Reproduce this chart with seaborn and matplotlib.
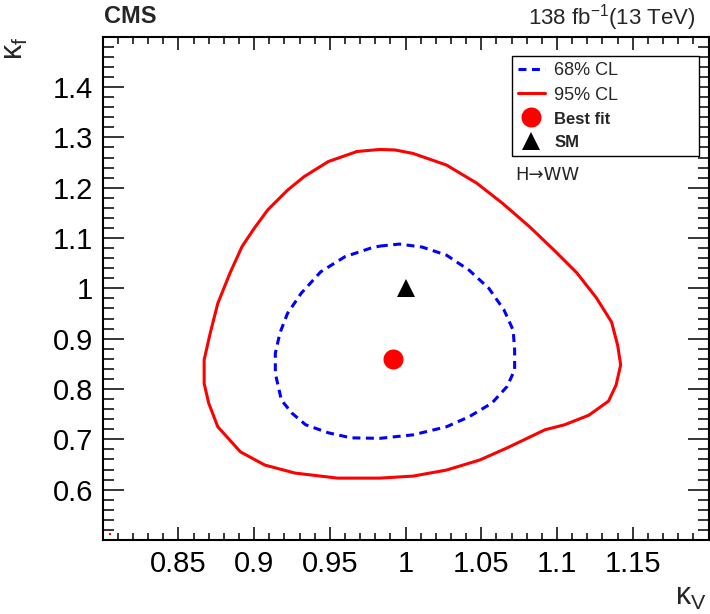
import numpy as np
import pandas as pd
import seaborn as sns
import matplotlib.pyplot as plt
from matplotlib.lines import Line2D
from matplotlib.ticker import MultipleLocator, FuncFormatter

# 95% CL contour (kappa_V, kappa_f)
kv_95 = [0.968, 0.983, 0.993, 1.005, 1.027, 1.047, 1.064, 1.082, 1.098, 1.113,
         1.126, 1.136, 1.140, 1.142, 1.139, 1.134, 1.121, 1.105, 1.092, 1.067,
         1.049, 1.027, 1.005, 0.983, 0.955, 0.927, 0.907, 0.891, 0.876, 0.870,
         0.867, 0.867, 0.871, 0.876, 0.884, 0.892, 0.900, 0.909, 0.922, 0.933,
         0.949, 0.968]
kf_95 = [1.272, 1.276, 1.275, 1.268, 1.245, 1.209, 1.169, 1.122, 1.076, 1.031,
         0.981, 0.933, 0.887, 0.848, 0.808, 0.776, 0.748, 0.729, 0.719, 0.683,
         0.659, 0.639, 0.627, 0.623, 0.623, 0.633, 0.649, 0.675, 0.725, 0.772,
         0.811, 0.858, 0.911, 0.970, 1.030, 1.083, 1.119, 1.156, 1.195, 1.222,
         1.252, 1.272]

# 68% CL contour
kv_68 = [0.983, 0.996, 1.011, 1.027, 1.042, 1.055, 1.065, 1.071, 1.072, 1.072,
         1.067, 1.057, 1.042, 1.027, 1.005, 0.983, 0.964, 0.949, 0.934, 0.925,
         0.918, 0.914, 0.914, 0.917, 0.922, 0.931, 0.944, 0.960, 0.977, 0.983]
kf_68 = [1.084, 1.088, 1.082, 1.066, 1.036, 1.000, 0.957, 0.917, 0.878, 0.838,
         0.805, 0.772, 0.745, 0.725, 0.709, 0.702, 0.703, 0.713, 0.729, 0.752,
         0.778, 0.831, 0.871, 0.911, 0.950, 0.990, 1.033, 1.063, 1.080, 1.084]

best_fit = (0.992, 0.860)
sm_point = (1.0, 1.0)
stray_kv = [0.805]
stray_kf = [0.512]

x_ticks = [0.85, 0.9, 0.95, 1.0, 1.05, 1.1, 1.15]
y_ticks = [0.6, 0.7, 0.8, 0.9, 1.0, 1.1, 1.2, 1.3, 1.4]

sns.set_style("ticks")
plt.rcParams['font.family'] = ['Liberation Sans', 'DejaVu Sans']
plt.rcParams['mathtext.fontset'] = 'custom'
plt.rcParams['mathtext.rm'] = 'Liberation Sans'
plt.rcParams['mathtext.it'] = 'Liberation Sans'
plt.rcParams['mathtext.bf'] = 'Liberation Sans:bold'

fig = plt.figure(figsize=(7.1, 6.14), dpi=100)
ax = fig.add_axes([0.1446, 0.1205, 0.8533, 0.8197])

df95 = pd.DataFrame({"kv": kv_95, "kf": kf_95})
df68 = pd.DataFrame({"kv": kv_68, "kf": kf_68})

sns.lineplot(x="kv", y="kf", data=df95, sort=False, estimator=None,
             color="#ff0000", lw=2.2, ax=ax, legend=False)
sns.lineplot(x="kv", y="kf", data=df68, sort=False, estimator=None,
             color="#0000ff", lw=2.2, ax=ax, legend=False,
             linestyle=(0, (2.6, 1.8)))
ax.plot([best_fit[0]], [best_fit[1]], 'o', color="#ff0000", ms=14.4, mew=0)
ax.plot([sm_point[0]], [sm_point[1]], '^', color="black", ms=13, mew=0)
ax.plot(stray_kv, stray_kf, 's', color="#ff0000", ms=2, mew=0)

ax.set_xlim(0.8, 1.2)
ax.set_ylim(0.5, 1.5)
ax.set_xticks(x_ticks)
ax.set_yticks(y_ticks)
ax.xaxis.set_minor_locator(MultipleLocator(0.01))
ax.yaxis.set_minor_locator(MultipleLocator(0.02))
fmt = FuncFormatter(lambda v, p: f"{round(v, 3):g}")
ax.xaxis.set_major_formatter(fmt)
ax.yaxis.set_major_formatter(fmt)
ax.tick_params(which='both', direction='in', top=True, right=True,
               width=1.1, colors='black', labelsize=21)
ax.tick_params(axis='x', which='major', length=9.4, pad=7)
ax.tick_params(axis='x', which='minor', length=5)
ax.tick_params(axis='y', which='major', length=15, pad=7)
ax.tick_params(axis='y', which='minor', length=8)
for s in ax.spines.values():
    s.set_linewidth(1.5)
    s.set_color('black')
ax.set_xlabel("")
ax.set_ylabel("")

fig.text(0.9958, 0.003, r'$\mathregular{κ_V}$', fontsize=22,
         ha='right', va='bottom')
fig.text(0.0, 0.94, r'$\mathregular{κ_f}$', fontsize=22,
         rotation=90, ha='left', va='top')

fig.text(0.1465, 0.963, "CMS", fontsize=17, fontweight='bold',
         ha='left', va='baseline')
fig.text(0.979, 0.9593, r'138 fb$^{\mathregular{-1}}$(13 TeV)', fontsize=16,
         ha='right', va='baseline')

handles = [
    Line2D([], [], color="#0000ff", lw=2.2, linestyle=(0, (2.6, 1.8))),
    Line2D([], [], color="#ff0000", lw=2.2),
    Line2D([], [], marker='o', color="#ff0000", ms=14.4, mew=0, lw=0),
    Line2D([], [], marker='^', color="black", ms=13, mew=0, lw=0),
]
labels = ["68% CL", "95% CL", "Best fit", "SM"]
leg = ax.legend(handles, labels, loc='upper left',
                bbox_to_anchor=(0.676, 0.760, 0.308, 0.202), mode='expand',
                borderaxespad=0, fontsize=13, frameon=True, fancybox=False,
                framealpha=1, edgecolor='black', handlelength=1.45,
                handletextpad=0.55, labelspacing=0.42, borderpad=0.34)
leg.get_frame().set_linewidth(1.0)
for t in leg.get_texts()[2:]:
    t.set_fontweight('bold')
    t.set_fontsize(12)

ax.text(0.6806, 0.725, "H→WW", transform=ax.transAxes, fontsize=13,
        family=['DejaVu Sans'], ha='left', va='center')

fig.savefig("out.png", dpi=100)
